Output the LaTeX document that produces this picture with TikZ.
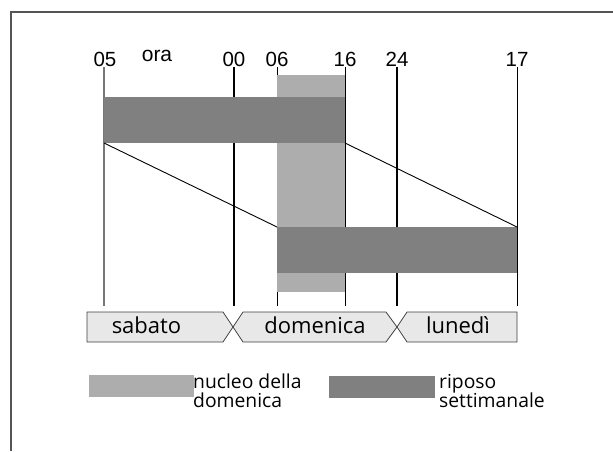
\documentclass[tikz,border=0pt]{standalone}
\usepackage{fontspec}
\setmainfont{Open Sans}
\newfontfamily\arialf{Liberation Sans}
\definecolor{barDark}{HTML}{808080}
\definecolor{barLight}{HTML}{ADADAD}
\definecolor{bandFill}{HTML}{E8E8E8}
\definecolor{bandLine}{HTML}{404040}
\definecolor{frameCol}{HTML}{555555}
\definecolor{grayLine}{HTML}{777777}
\begin{document}
\begin{tikzpicture}[x=1pt,y=-1pt,
  thinline/.style={line width=1pt,black},
  thickline/.style={line width=2.6pt,black},
  grayline/.style={line width=1.5pt,grayLine},
  darkbar/.style={fill=barDark,draw=none,inner sep=0pt,outer sep=0pt,anchor=north west},
  lightbar/.style={fill=barLight,draw=none,inner sep=0pt,outer sep=0pt,anchor=north west},
  dayband/.style={draw=bandLine,fill=bandFill,line width=0.8pt,line join=miter},
  daytext/.style={font=\fontsize{22}{24}\selectfont,anchor=base,inner sep=0pt},
  numtext/.style={font=\arialf\fontsize{20.5}{24}\selectfont,anchor=base,inner sep=0pt},
  legtext/.style={font=\fontsize{19.3}{20}\selectfont,anchor=base west,inner sep=0pt},
  diag/.style={line width=0.9pt,black}]
\useasboundingbox (0,0) rectangle (613,451);
% frame
\coordinate (fbl) at (10.5,451);
\coordinate (ftl) at (10.5,11.5);
\coordinate (ftr) at (613,11.5);
\draw[line width=2pt,frameCol] (fbl) -- (ftl) -- (ftr);
% hour lines
\foreach \n/\x in {05/104,00/234,06/277,16/345,24/397,17/517}{
  \coordinate (t\n) at (\x,67);
  \coordinate (b\n) at (\x,306);
}
\draw[grayline] (t05) -- (b05);
\draw[thickline] (t00) -- (b00);
\draw[thickline] (t24) -- (b24);
\draw[thinline] (t06) -- (b06);
\draw[thinline] (t16) -- (b16);
\draw[thinline] (t17) -- (b17);
% hour labels
\node[numtext] (l05) at (105,66) {05};
\node[numtext] (l00) at (234,66) {00};
\node[numtext] (l06) at (277,66) {06};
\node[numtext] (l16) at (345,66) {16};
\node[numtext] (l24) at (397,66) {24};
\node[numtext] (l17) at (517,66) {17};
\node[font=\arialf\fontsize{21}{24}\selectfont,anchor=base,inner sep=0pt] (ora) at (157,61) {ora};
% bars
\node[lightbar,minimum width=68pt,minimum height=217pt] (core) at (277,75) {};
\node[darkbar,minimum width=241pt,minimum height=46pt] (upper) at (104,97) {};
\node[darkbar,minimum width=240pt,minimum height=46pt] (lower) at (277,227) {};
% diagonals
\draw[diag] (upper.south west) -- (lower.north west);
\draw[diag] (upper.south east) -- (lower.north east);
% day bands
\draw[dayband] (87,312) -- (223,312) -- (233,327) -- (223,342) -- (87,342) -- cycle;
\draw[dayband] (243,312) -- (386,312) -- (397,327) -- (386,342) -- (243,342) -- (233,327) -- cycle;
\draw[dayband] (407,312) -- (517,312) -- (517,342) -- (407,342) -- (397,327) -- cycle;
\node[daytext] (sab) at (146.5,333.5) {sabato};
\node[daytext] (dom) at (315,333.5) {domenica};
\node[daytext] (lun) at (458,333.5) {lunedì};
% legend
\node[lightbar,minimum width=105pt,minimum height=22pt] (swl) at (89,375) {};
\node[darkbar,minimum width=106pt,minimum height=22pt] (swd) at (329,376) {};
\node[legtext] (leg1a) at (193,388) {nucleo della};
\node[legtext] (leg1b) at (193,407) {domenica};
\node[legtext] (leg2a) at (439,388) {riposo};
\node[legtext] (leg2b) at (439,407) {settimanale};
\end{tikzpicture}
\end{document}
